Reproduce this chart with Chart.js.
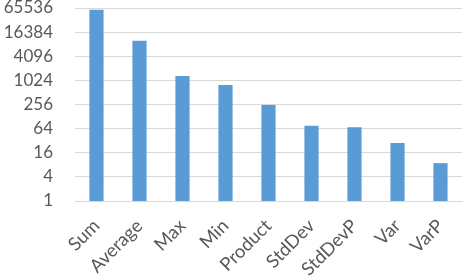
<!DOCTYPE html>
<html>
<head>
<meta charset="utf-8">
<script src="https://cdn.jsdelivr.net/npm/chart.js@4"></script>
<style>
  html, body { margin: 0; padding: 0; background: #fff; }
  #wrap { width: 464px; height: 278px; }
</style>
</head>
<body>
<div id="wrap"><canvas id="chart"></canvas></div>
<script>
// categorias e valores
const categories = ["Sum", "Average", "Max", "Min", "Product", "StdDev", "StdDevP", "Var", "VarP"];
const values = [59000, 10000, 1315, 780, 250, 76, 69, 28, 8.8];
const tickValues = [1, 4, 16, 64, 256, 1024, 4096, 16384, 65536];

const ctx = document.getElementById("chart");
new Chart(ctx, {
  type: "bar",
  data: {
    labels: categories,
    datasets: [
      { data: values, backgroundColor: "#5b9bd5", borderWidth: 0,
        barPercentage: 0.33, categoryPercentage: 1 },
    ],
  },
  options: {
    responsive: true,
    maintainAspectRatio: false,
    animation: false,
    layout: { padding: { top: 8, right: 2, left: 0, bottom: 0 } },
    plugins: { legend: { display: false }, tooltip: { enabled: false } },
    scales: {
      x: {
        grid: { display: false, drawTicks: false },
        border: { color: "#d9d9d9", width: 1 },
        ticks: {
          color: "#595959",
          font: { family: "Lato", size: 18.5 },
          autoSkip: false,
          minRotation: 45,
          maxRotation: 45,
          padding: 14,
        },
        afterFit: (s) => {
          s.height = 77;
          s.paddingLeft = 0;
          s.paddingRight = 0;
        },
      },
      y: {
        type: "logarithmic",
        min: 1,
        max: 65536,
        grid: { color: "#d9d9d9", lineWidth: 1, drawTicks: false },
        border: { display: false },
        afterBuildTicks: (s) => { s.ticks = tickValues.map((v) => ({ value: v })); },
        ticks: {
          color: "#595959",
          font: { family: "Lato", size: 17 },
          autoSkip: false,
          padding: 22,
          callback: (v) => String(v),
        },
        afterFit: (s) => {
          s.width = 75;
          s.paddingTop = 0;
          s.paddingBottom = 0;
        },
      },
    },
  },
});
</script>
</body>
</html>
